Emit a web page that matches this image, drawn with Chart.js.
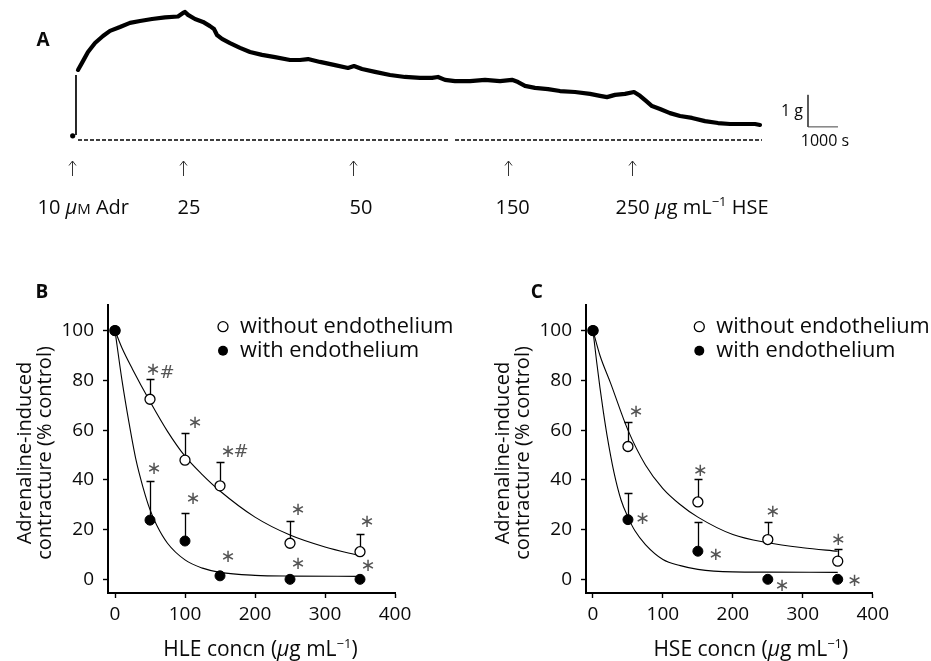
<!DOCTYPE html>
<html>
<head>
<meta charset="utf-8">
<title>Adrenaline-induced contracture</title>
<script src="https://cdn.jsdelivr.net/npm/chart.js@4.4.1/dist/chart.umd.min.js"></script>
<style>
  html, body { margin: 0; padding: 0; background: #fff; }
  #wrap { position: relative; width: 931px; height: 661px; overflow: hidden; }
  canvas { position: absolute; }
</style>
</head>
<body>
<div id="wrap">
  <canvas id="chartA" width="931" height="240" style="left:0;top:0"></canvas>
  <canvas id="chartB" width="466" height="381" style="left:0;top:280px"></canvas>
  <canvas id="chartC" width="465" height="381" style="left:466px;top:280px"></canvas>
</div>
<script>
// ═══════════════════════════════════════════════════
// PANEL A — tension trace (time in s, tension in g)
// ═══════════════════════════════════════════════════
const traceT = [200, 333, 533, 767, 1033, 1267, 1600, 1933, 2267, 2667, 3100, 3533, 3700, 3767, 3867,
    4100, 4367, 4600, 4733, 4833, 5000, 5267, 5600, 5933, 6333, 6767, 7267, 7600, 7867, 8267, 8767,
    9200, 9400, 9667, 10100, 10600, 11100, 11600, 12000, 12200, 12433, 12767, 13267, 13767, 14267,
    14667, 14867, 15100, 15433, 15867, 16267, 16767, 17267, 17600, 17833, 18100, 18433, 18733, 18933,
    19133, 19333, 19600, 19933, 20267, 20667, 21100, 21533, 21933, 22433, 22767, 22933];
const traceG = [2.19, 2.41, 2.75, 3.03, 3.25, 3.41, 3.53, 3.66, 3.72, 3.78, 3.83, 3.86, 3.97, 4.0, 3.91,
    3.78, 3.69, 3.56, 3.47, 3.28, 3.16, 3.03, 2.88, 2.75, 2.66, 2.59, 2.5, 2.5, 2.53, 2.44, 2.34,
    2.25, 2.31, 2.22, 2.13, 2.03, 1.97, 1.94, 1.94, 1.97, 1.88, 1.84, 1.84, 1.88, 1.84,
    1.88, 1.81, 1.69, 1.63, 1.59, 1.53, 1.5, 1.44, 1.38, 1.34, 1.41, 1.44, 1.5, 1.38,
    1.22, 1.06, 0.97, 0.84, 0.75, 0.69, 0.59, 0.53, 0.5, 0.5, 0.5, 0.47];
const jumpT = [133, 133];
const jumpG = [0.16, 2.03];
const startT = [23];
const startG = [0.13];
const baselineT = [200, 12600, 12680, 12767, 23000];
const baselineG = [0, 0, null, 0, 0];
const doseT = [0, 3690, 9357, 14543, 18677];
const doseLabels = ['10 μM Adr', '25', '50', '150', '250 μg mL⁻¹ HSE'];
const scaleBarT = [24533, 24533, 25533];
const scaleBarG = [1.41, 0.41, 0.41];
const scaleBarLabels = ['1 g', '1000 s'];

// ═══════════════════════════════════════════════════
// PANELS B / C — concentration-response
// ═══════════════════════════════════════════════════
const xTicks = [0, 100, 200, 300, 400];
const yTicks = [0, 20, 40, 60, 80, 100];
const legendLabels = ['without endothelium', 'with endothelium'];

// B: HLE
const concB = [0, 50, 100, 150, 250, 350];
const noEndoB = [100, 72.4, 47.9, 37.6, 14.5, 11.1];
const noEndoSemB = [0, 8.3, 11.1, 9.6, 8.9, 7.1];
const withEndoB = [100, 23.8, 15.4, 1.4, 0, 0];
const withEndoSemB = [0, 15.7, 11.3, 0, 0, 0];
const fitNoXB = [0, 10, 25, 50, 75, 100, 125, 150, 200, 250, 300, 350];
const fitNoYB = [100, 93, 84.5, 71.5, 59.5, 49.5, 42, 35.5, 25, 17.8, 13, 9.5];
const fitWithXB = [0, 10, 20, 30, 40, 50, 60, 75, 100, 125, 150, 200, 250, 350];
const fitWithYB = [100, 80, 63, 48, 37, 28, 21.5, 14.5, 7.8, 4.5, 2.8, 1.6, 1.3, 1.2];
const sigXB = [54.3, 74.3, 114.3, 161.4, 180, 261.4, 360, 55.7, 111.4, 161.4, 261.4, 361.4];
const sigYB = [84.1, 82.5, 62.8, 51.1, 50.7, 27.8, 23.0, 44.3, 32.3, 9.0, 6.1, 5.3];
const sigTB = ['*', '#', '*', '*', '#', '*', '*', '*', '*', '*', '*', '*'];

// C: HSE
const concC = [0, 50, 150, 250, 350];
const noEndoC = [100, 53.4, 31.1, 16.0, 7.3];
const noEndoSemC = [0, 10.0, 9.3, 7.0, 5.0];
const withEndoC = [100, 24.0, 11.3, 0, 0];
const withEndoSemC = [0, 10.8, 11.8, 0, 0];
const fitNoXC = [0, 10, 25, 50, 75, 100, 125, 150, 200, 250, 300, 350];
const fitNoYC = [100, 90, 79, 60, 46, 36.5, 30, 25, 18, 14.7, 12.7, 11.3];
const fitWithXC = [0, 5, 10, 15, 20, 30, 40, 50, 60, 75, 100, 125, 150, 200, 250, 350];
const fitWithYC = [100, 88, 77, 67, 58, 43, 32, 25, 19.5, 14, 8, 5.5, 4, 3, 2.9, 2.8];
const sigXC = [61.4, 153.3, 257.1, 350.9, 70.9, 175.7, 270.4, 373.9];
const sigYC = [67.1, 43.4, 27.1, 15.6, 24.3, 9.6, -2.7, -0.9];
const sigTC = ['*', '*', '*', '*', '*', '*', '*', '*'];

// ═══════════════════════════════════════════════════

const FONT = '"Open Sans", "Noto Sans", sans-serif';
const INK = '#0a0a0a';

function xy(xs, ys) {
    return xs.map((x, i) => ({ x, y: ys[i] }));
}

// mixed-style text: italic μ, small-cap M after μ, superscript ⁻¹
function richParts(str, size) {
    const parts = [];
    for (let i = 0; i < str.length; i++) {
        const ch = str[i];
        let kind = 'n';
        if (ch === 'μ') kind = 'i';
        else if (ch === 'M' && str[i - 1] === 'μ') kind = 'sc';
        else if (ch === '⁻' || ch === '¹') kind = 'sup';
        const last = parts[parts.length - 1];
        if (last && last.kind === kind) last.t += ch; else parts.push({ t: ch, kind });
    }
    return parts.map(p => {
        if (p.kind === 'i') return { t: p.t, font: `italic ${size}px ${FONT}`, dy: 0 };
        if (p.kind === 'sc') return { t: p.t, font: `${Math.round(size * 0.74)}px ${FONT}`, dy: 0 };
        if (p.kind === 'sup') return { t: p.t.replace('⁻', '−').replace('¹', '1'), font: `${Math.round(size * 0.64)}px ${FONT}`, dy: -size * 0.38 };
        return { t: p.t, font: `${size}px ${FONT}`, dy: 0 };
    });
}

function drawRich(ctx, str, x, baseY, size, align) {
    const parts = richParts(str, size);
    let w = 0;
    parts.forEach(p => { ctx.font = p.font; p.w = ctx.measureText(p.t).width; w += p.w; });
    let cx = align === 'center' ? x - w / 2 : align === 'right' ? x - w : x;
    ctx.textAlign = 'left';
    ctx.textBaseline = 'alphabetic';
    parts.forEach(p => { ctx.font = p.font; ctx.fillText(p.t, cx, baseY + p.dy); cx += p.w; });
}

// ---------- Panel A ----------
const labelDx = [-35, -6, -4, -13, -17];   // left edge of each dose label vs its arrow

const traceDecor = {
    id: 'traceDecor',
    afterDraw(chart) {
        const { ctx, scales: { x, y } } = chart;
        const base = y.getPixelForValue(0);
        ctx.save();
        ctx.fillStyle = INK;
        ctx.font = `bold 19px ${FONT}`;
        ctx.textAlign = 'center';
        ctx.textBaseline = 'middle';
        ctx.fillText('A', 43, 41);

        ctx.strokeStyle = '#333';
        ctx.lineWidth = 1;
        doseT.forEach((t, i) => {
            const px = Math.round(x.getPixelForValue(t)) + 0.5;
            ctx.beginPath();
            ctx.moveTo(px, base + 21); ctx.lineTo(px, base + 36);
            ctx.moveTo(px - 3.5, base + 25.5); ctx.lineTo(px, base + 21); ctx.lineTo(px + 3.5, base + 25.5);
            ctx.stroke();
            drawRich(ctx, doseLabels[i], px + labelDx[i], base + 74, 20, 'left');
        });

        // scale bar labels
        const bx = x.getPixelForValue(scaleBarT[0]);
        const by0 = y.getPixelForValue(scaleBarG[0]);
        const by1 = y.getPixelForValue(scaleBarG[1]);
        const bx2 = x.getPixelForValue(scaleBarT[2]);
        ctx.font = `16px ${FONT}`;
        ctx.textAlign = 'right';
        ctx.textBaseline = 'middle';
        ctx.fillText(scaleBarLabels[0], bx - 5, (by0 + by1) / 2 + 1);
        ctx.textAlign = 'center';
        ctx.fillText(scaleBarLabels[1], (bx + bx2) / 2 + 2, by1 + 15);
        ctx.restore();
    }
};

new Chart(document.getElementById('chartA'), {
    type: 'line',
    data: {
        datasets: [
            { data: xy(traceT, traceG), borderColor: '#000', borderWidth: 4.2, pointRadius: 0, tension: 0,
              borderJoinStyle: 'round', borderCapStyle: 'round' },
            { data: xy(jumpT, jumpG), borderColor: '#111', borderWidth: 1.8, pointRadius: 0 },
            { data: xy(startT, startG), showLine: false, pointRadius: 2.6, pointBackgroundColor: '#000', pointBorderWidth: 0 },
            { data: xy(baselineT, baselineG), borderColor: '#000', borderWidth: 1.3, borderDash: [4, 2], pointRadius: 0, spanGaps: false },
            { data: xy(scaleBarT, scaleBarG), borderColor: '#444', borderWidth: 1, pointRadius: 0 }
        ]
    },
    options: {
        responsive: false,
        animation: false,
        events: [],
        layout: { padding: 0, autoPadding: false },
        plugins: { legend: { display: false }, tooltip: { enabled: false } },
        scales: {
            x: { type: 'linear', min: -2400, max: 28633, display: false },
            y: { type: 'linear', min: -3.125, max: 4.375, display: false }
        }
    },
    plugins: [traceDecor]
});

// ---------- Panels B & C ----------
const errorBars = {
    id: 'errorBars',
    beforeDatasetsDraw(chart) {
        const { ctx, scales: { x, y } } = chart;
        ctx.save();
        ctx.strokeStyle = '#000';
        ctx.lineWidth = 1.3;
        chart.data.datasets.forEach(ds => {
            if (!ds.sem) return;
            ds.data.forEach((p, i) => {
                const e = ds.sem[i];
                if (!e) return;
                const px = Math.round(x.getPixelForValue(p.x)) + 0.5;
                const y0 = y.getPixelForValue(p.y);
                const y1 = Math.round(y.getPixelForValue(p.y + e)) + 0.5;
                ctx.beginPath();
                ctx.moveTo(px, y0); ctx.lineTo(px, y1);
                ctx.moveTo(px - 4, y1); ctx.lineTo(px + 4, y1);
                ctx.stroke();
            });
        });
        ctx.restore();
    }
};

const panelDecor = {
    id: 'panelDecor',
    afterDraw(chart, args, o) {
        const { ctx, chartArea: a, scales: { x, y } } = chart;
        ctx.save();
        ctx.fillStyle = INK;

        // panel letter
        ctx.font = `bold 19px ${FONT}`;
        ctx.textAlign = 'center';
        ctx.textBaseline = 'middle';
        ctx.fillText(o.letter, o.letterX, 13);

        // y title, two lines
        const midY = (a.top + a.bottom) / 2 + 4;
        ctx.font = `20px ${FONT}`;
        o.yTitle.forEach((line, i) => {
            ctx.save();
            ctx.translate(a.left - 83 + i * 20, midY);
            ctx.rotate(-Math.PI / 2);
            ctx.textAlign = 'center';
            ctx.textBaseline = 'middle';
            ctx.fillText(line, 0, 0);
            ctx.restore();
        });

        // x title
        drawRich(ctx, o.xTitle, a.left + o.xTitleDx, a.bottom + 63, 21, 'center');

        // legend
        const lx = a.left + o.legendDx;
        [a.top + 21.7, a.top + 45.7].forEach((ly, i) => {
            ctx.beginPath();
            ctx.arc(lx, ly, 5, 0, Math.PI * 2);
            if (i === 0) {
                ctx.fillStyle = '#fff'; ctx.fill();
                ctx.strokeStyle = '#000'; ctx.lineWidth = 1.3; ctx.stroke();
            } else {
                ctx.fillStyle = '#000'; ctx.fill();
            }
            ctx.fillStyle = INK;
            ctx.font = `21.8px ${FONT}`;
            ctx.textAlign = 'left';
            ctx.textBaseline = 'middle';
            ctx.fillText(legendLabels[i], lx + 17, ly);
        });

        // significance marks
        ctx.fillStyle = '#555';
        ctx.textAlign = 'center';
        ctx.textBaseline = 'middle';
        o.sigT.forEach((t, i) => {
            const px = x.getPixelForValue(o.sigX[i]);
            const py = y.getPixelForValue(o.sigY[i]);
            if (t === '#') {
                ctx.font = '18px "DejaVu Sans"';
                ctx.fillText(t, px, py - 1);
            } else {
                ctx.font = '18px "DejaVu Sans"';
                ctx.fillText('∗', px, py);
            }
        });
        ctx.restore();
    }
};

function makePanel(id, d, lay) {
    const tickFont = { family: FONT, size: 19 };
    return new Chart(document.getElementById(id), {
        type: 'line',
        data: {
            datasets: [
                { label: legendLabels[1], data: xy(d.conc, d.withMean), sem: d.withSem, showLine: false,
                  pointRadius: 5, pointBackgroundColor: '#000', pointBorderColor: '#000', pointBorderWidth: 1 },
                { label: legendLabels[0], data: xy(d.conc, d.noMean), sem: d.noSem, showLine: false,
                  pointRadius: 5, pointBackgroundColor: '#fff', pointBorderColor: '#000', pointBorderWidth: 1.3 },
                { data: xy(d.fitNoX, d.fitNoY), borderColor: '#000', borderWidth: 1.1, pointRadius: 0,
                  cubicInterpolationMode: 'monotone' },
                { data: xy(d.fitWithX, d.fitWithY), borderColor: '#000', borderWidth: 1.1, pointRadius: 0,
                  cubicInterpolationMode: 'monotone' }
            ]
        },
        options: {
            responsive: false,
            animation: false,
            events: [],
            layout: { padding: { top: 25, right: lay.padRight, left: 0, bottom: 0 } },
            plugins: {
                legend: { display: false },
                tooltip: { enabled: false },
                panelDecor: lay
            },
            scales: {
                x: {
                    type: 'linear', min: -10, max: 400,
                    afterBuildTicks: s => { s.ticks = xTicks.map(v => ({ value: v })); },
                    afterFit: s => { s.height = 68; },
                    grid: { drawOnChartArea: false, drawTicks: true, tickLength: 5, tickColor: '#000', tickWidth: 1.4 },
                    border: { display: true, color: '#000', width: 2 },
                    ticks: { font: tickFont, color: INK, padding: 5, maxRotation: 0 }
                },
                y: {
                    type: 'linear', min: -5.5, max: 110.3,
                    afterBuildTicks: s => { s.ticks = yTicks.map(v => ({ value: v })); },
                    afterFit: s => { s.width = lay.axisLeft; },
                    grid: { drawOnChartArea: false, drawTicks: true, tickLength: 5, tickColor: '#000', tickWidth: 1.4 },
                    border: { display: true, color: '#000', width: 2 },
                    ticks: { font: tickFont, color: INK, padding: 9 }
                }
            }
        },
        plugins: [errorBars, panelDecor]
    });
}

makePanel('chartB', {
    conc: concB, noMean: noEndoB, noSem: noEndoSemB, withMean: withEndoB, withSem: withEndoSemB,
    fitNoX: fitNoXB, fitNoY: fitNoYB, fitWithX: fitWithXB, fitWithY: fitWithYB
}, {
    axisLeft: 108, padRight: 71, letter: 'B', letterX: 42, legendDx: 115, xTitleDx: 152.5,
    xTitle: 'HLE concn (μg mL⁻¹)', yTitle: ['Adrenaline-induced', 'contracture (% control)'],
    sigX: sigXB, sigY: sigYB, sigT: sigTB
});

makePanel('chartC', {
    conc: concC, noMean: noEndoC, noSem: noEndoSemC, withMean: withEndoC, withSem: withEndoSemC,
    fitNoX: fitNoXC, fitNoY: fitNoYC, fitWithX: fitWithXC, fitWithY: fitWithYC
}, {
    axisLeft: 120, padRight: 58.3, letter: 'C', letterX: 70.7, legendDx: 113.3, xTitleDx: 164.8,
    xTitle: 'HSE concn (μg mL⁻¹)', yTitle: ['Adrenaline-induced', 'contracture (% control)'],
    sigX: sigXC, sigY: sigYC, sigT: sigTC
});
</script>
</body>
</html>
